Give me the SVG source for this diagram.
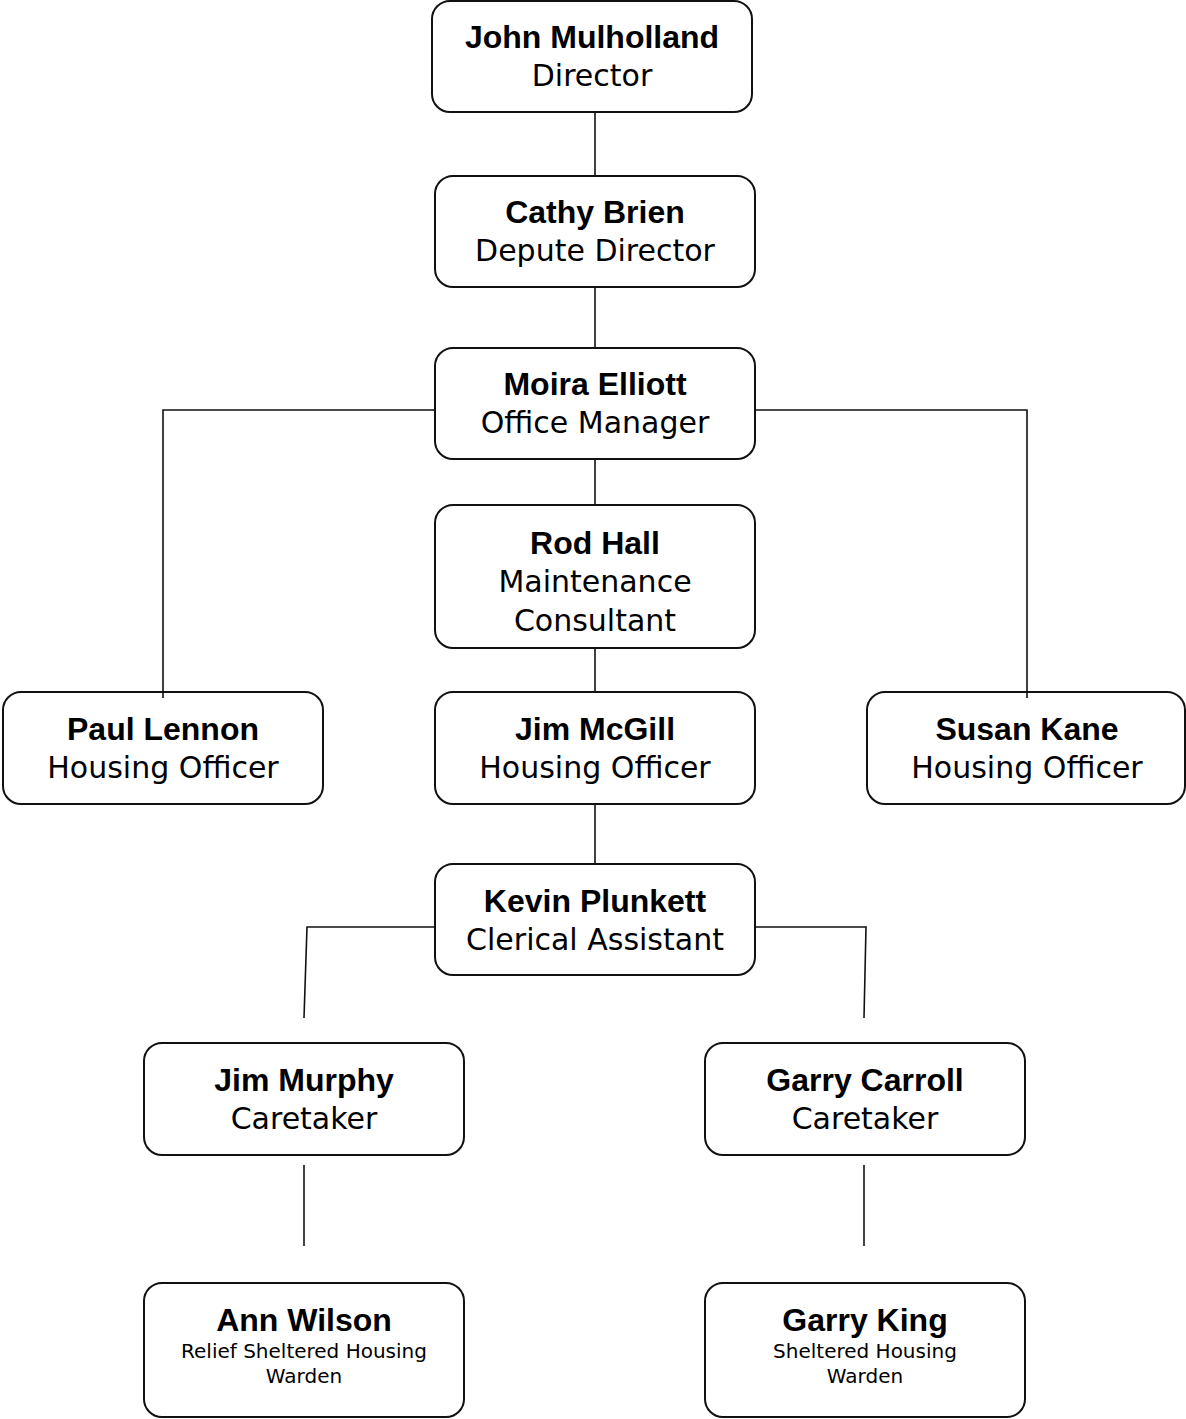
<svg xmlns="http://www.w3.org/2000/svg" width="1186" height="1419" viewBox="0 0 1186 1419">
<style>
.box{fill:#fff;stroke:#111;stroke-width:2}
.nm{font-family:"Liberation Sans",Arial,sans-serif;font-weight:bold;font-size:32px;fill:#000;text-anchor:middle}
.rl{font-family:"DejaVu Sans",sans-serif;font-size:30px;fill:#000;text-anchor:middle}
.sm{font-family:"DejaVu Sans",sans-serif;font-size:20px;fill:#000;text-anchor:middle}
.ln{fill:none;stroke:#111;stroke-width:1.6}
</style>
<rect width="1186" height="1419" fill="#fff"/>
<g id="n-john"><rect class="box" x="432" y="1" width="320" height="111" rx="18"/><text class="nm" x="592" y="48">John Mulholland</text><text class="rl" x="592" y="86">Director</text></g>
<g id="n-cathy"><rect class="box" x="435" y="176" width="320" height="111" rx="18"/><text class="nm" x="595" y="223">Cathy Brien</text><text class="rl" x="595" y="261">Depute Director</text></g>
<g id="n-moira"><rect class="box" x="435" y="348" width="320" height="111" rx="18"/><text class="nm" x="595" y="395">Moira Elliott</text><text class="rl" x="595" y="433">Office Manager</text></g>
<g id="n-rod"><rect class="box" x="435" y="505" width="320" height="143" rx="18"/><text class="nm" x="595" y="554">Rod Hall</text><text class="rl" x="595" y="592">Maintenance</text><text class="rl" x="595" y="631">Consultant</text></g>
<g id="n-paul"><rect class="box" x="3" y="692" width="320" height="112" rx="18"/><text class="nm" x="163" y="740">Paul Lennon</text><text class="rl" x="163" y="778">Housing Officer</text></g>
<g id="n-jimmcgill"><rect class="box" x="435" y="692" width="320" height="112" rx="18"/><text class="nm" x="595" y="740">Jim McGill</text><text class="rl" x="595" y="778">Housing Officer</text></g>
<g id="n-susan"><rect class="box" x="867" y="692" width="318" height="112" rx="18"/><text class="nm" x="1027" y="740">Susan Kane</text><text class="rl" x="1027" y="778">Housing Officer</text></g>
<g id="n-kevin"><rect class="box" x="435" y="864" width="320" height="111" rx="18"/><text class="nm" x="595" y="912">Kevin Plunkett</text><text class="rl" x="595" y="950">Clerical Assistant</text></g>
<g id="n-jimmurphy"><rect class="box" x="144" y="1043" width="320" height="112" rx="18"/><text class="nm" x="304" y="1091">Jim Murphy</text><text class="rl" x="304" y="1129">Caretaker</text></g>
<g id="n-garrycarroll"><rect class="box" x="705" y="1043" width="320" height="112" rx="18"/><text class="nm" x="865" y="1091">Garry Carroll</text><text class="rl" x="865" y="1129">Caretaker</text></g>
<g id="n-ann"><rect class="box" x="144" y="1283" width="320" height="134" rx="18"/><text class="nm" x="304" y="1331">Ann Wilson</text><text class="sm" x="304" y="1358">Relief Sheltered Housing</text><text class="sm" x="304" y="1383">Warden</text></g>
<g id="n-garryking"><rect class="box" x="705" y="1283" width="320" height="134" rx="18"/><text class="nm" x="865" y="1331">Garry King</text><text class="sm" x="865" y="1358">Sheltered Housing</text><text class="sm" x="865" y="1383">Warden</text></g>
<g id="connectors">
<line class="ln" x1="595" y1="112" x2="595" y2="176"/>
<line class="ln" x1="595" y1="287" x2="595" y2="348"/>
<line class="ln" x1="595" y1="459" x2="595" y2="505"/>
<line class="ln" x1="595" y1="648" x2="595" y2="692"/>
<line class="ln" x1="595" y1="804" x2="595" y2="864"/>
<polyline class="ln" points="435,410 163,410 163,698"/>
<polyline class="ln" points="755,410 1027,410 1027,698"/>
<polyline class="ln" points="435,927 307,927 304,1018"/>
<polyline class="ln" points="755,927 866,927 864,1018"/>
<line class="ln" x1="304" y1="1165" x2="304" y2="1246"/>
<line class="ln" x1="864" y1="1165" x2="864" y2="1246"/>
</g>
</svg>
